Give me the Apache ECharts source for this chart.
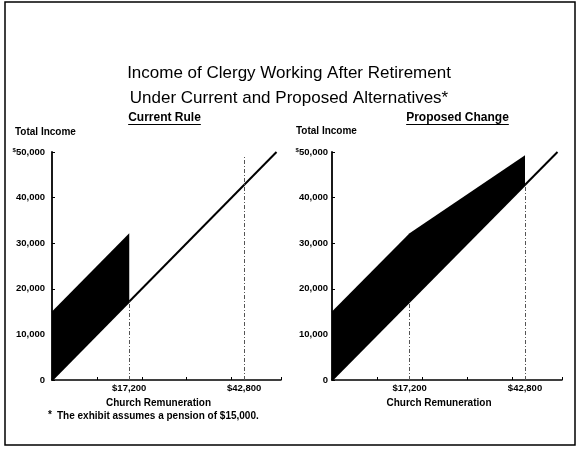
<!DOCTYPE html>
<html>
<head>
<meta charset="utf-8">
<script src="https://cdn.jsdelivr.net/npm/echarts@6/dist/echarts.min.js"></script>
<style>
  html, body { margin: 0; padding: 0; background: #fff; }
  #chart { width: 577px; height: 449px; }
</style>
</head>
<body>
<div id="chart"></div>
<script>
// ---- text ----
const titleLines = ['Income of Clergy Working After Retirement', 'Under Current and Proposed Alternatives*'];
const panelTitles = ['Current Rule', 'Proposed Change'];
const yAxisTitle = 'Total Income';
const xAxisTitle = 'Church Remuneration';
const footnote = 'The exhibit assumes a pension of $15,000.';

// ---- axes ----
const yTicks = [0, 10000, 20000, 30000, 40000, 50000];
const xLabelValues = [17200, 42800];
const xTickValues = [10000, 20000, 30000, 40000, 51000];

// ---- data ----
// remuneration alone: income equals remuneration
const diagonal = [[0, 0], [50000, 50000]];
// current rule: full $15,000 pension kept up to $17,200 of remuneration
const currentUpper = [[0, 15000], [17200, 32200]];
const currentLower = [[0, 0], [17200, 17200]];
// proposed change: pension phased down between $17,200 and $42,800
const proposedUpper = [[0, 15000], [17200, 32200], [42800, 49300]];
const proposedLower = [[0, 0], [17200, 17200], [42800, 42800]];
// dashed guides at the two thresholds: [remuneration, top of guide]
const currentGuides = [[17200, 17200], [42800, 49300]];
const proposedGuides = [[17200, 17200], [42800, 42800]];

const FONT = '"Liberation Sans", Arial, Helvetica, sans-serif';
const fmt = v => v.toLocaleString('en-US');

const measure = (text, font) => {
  const ctx = document.createElement('canvas').getContext('2d');
  ctx.font = font;
  return ctx.measureText(text).width;
};

const grids = [
  { left: 52, top: 152, width: 229, height: 228 },
  { left: 332, top: 152, width: 230, height: 228 }
];

function xAxisFor(i) {
  return {
    type: 'value', gridIndex: i, min: 0, max: 51000,
    splitLine: { show: false },
    axisLine: { show: true, lineStyle: { color: '#000', width: 1.5 } },
    axisTick: { show: true, inside: true, length: 3, customValues: xTickValues,
                lineStyle: { color: '#000', width: 1 } },
    axisLabel: { show: true, customValues: xLabelValues, margin: 3,
                 formatter: v => '$' + fmt(v),
                 fontFamily: FONT, fontSize: 9.5, fontWeight: 'bold', color: '#000' },
    name: xAxisTitle, nameLocation: 'middle', nameGap: 15,
    nameTextStyle: { fontFamily: FONT, fontSize: 10, fontWeight: 'bold', color: '#000',
                     padding: [0, 16, 0, 0] }
  };
}

function yAxisFor(i) {
  return {
    type: 'value', gridIndex: i, min: 0, max: 50000, interval: 10000,
    splitLine: { show: false },
    axisLine: { show: true, lineStyle: { color: '#000', width: 1.8 } },
    axisTick: { show: true, inside: true, length: 3, lineStyle: { color: '#000', width: 1 } },
    axisLabel: {
      margin: i === 0 ? 7 : 4,
      formatter: v => v === yTicks[yTicks.length - 1] ? '{s|$}{v|' + fmt(v) + '}' : '{v|' + fmt(v) + '}',
      rich: {
        s: { fontFamily: FONT, fontSize: 6, fontWeight: 'bold', color: '#000', verticalAlign: 'top', lineHeight: 10 },
        v: { fontFamily: FONT, fontSize: 9.5, fontWeight: 'bold', color: '#000', lineHeight: 10 }
      }
    }
  };
}

function band(i, upper, lower) {
  return {
    type: 'custom', xAxisIndex: i, yAxisIndex: i, silent: true, z: 2,
    data: [[0, 0]],
    renderItem: (params, api) => {
      const pts = upper.map(p => api.coord(p))
        .concat(lower.slice().reverse().map(p => api.coord(p)));
      return { type: 'polygon', shape: { points: pts }, style: { fill: '#000' } };
    }
  };
}

function line(i, guides) {
  return {
    type: 'line', xAxisIndex: i, yAxisIndex: i, data: diagonal, silent: true, z: 3,
    symbol: 'none', lineStyle: { color: '#000', width: 2 },
    markLine: {
      silent: true, symbol: 'none', label: { show: false },
      lineStyle: { color: '#555', width: 1, type: [4, 2, 1, 2] },
      data: guides.map(([x, top]) => [{ coord: [x, 0] }, { coord: [x, top] }])
    }
  };
}

const panelFont = 'bold 12px ' + FONT;
const panelCenters = [164.5, 457.5];
const graphics = [
  { type: 'rect', shape: { x: 5, y: 2, width: 570, height: 443 }, silent: true,
    style: { fill: 'none', stroke: '#000', lineWidth: 1.5 } },
  { type: 'text', x: 289, y: 73, silent: true,
    style: { text: titleLines[0], font: '17px ' + FONT, fill: '#000', align: 'center', verticalAlign: 'middle' } },
  { type: 'text', x: 289, y: 98, silent: true,
    style: { text: titleLines[1], font: '17px ' + FONT, fill: '#000', align: 'center', verticalAlign: 'middle' } },
  { type: 'text', x: 15, y: 132, silent: true,
    style: { text: yAxisTitle, font: 'bold 10px ' + FONT, fill: '#000', align: 'left', verticalAlign: 'middle' } },
  { type: 'text', x: 296, y: 131, silent: true,
    style: { text: yAxisTitle, font: 'bold 10px ' + FONT, fill: '#000', align: 'left', verticalAlign: 'middle' } },
  { type: 'text', x: 48, y: 415, silent: true,
    style: { text: '*', font: 'bold 10px ' + FONT, fill: '#000', align: 'left', verticalAlign: 'middle' } },
  { type: 'text', x: 57, y: 416, silent: true,
    style: { text: footnote, font: 'bold 10px ' + FONT, fill: '#000', align: 'left', verticalAlign: 'middle' } }
];
panelTitles.forEach((t, i) => {
  const w = measure(t, panelFont);
  const cx = panelCenters[i];
  graphics.push({ type: 'text', x: cx, y: 118, silent: true,
    style: { text: t, font: panelFont, fill: '#000', align: 'center', verticalAlign: 'middle' } });
  graphics.push({ type: 'line', silent: true,
    shape: { x1: cx - w / 2, y1: 124.5, x2: cx + w / 2, y2: 124.5 },
    style: { stroke: '#000', lineWidth: 1 } });
});

const chart = echarts.init(document.getElementById('chart'), null, { renderer: 'canvas' });
chart.setOption({
  animation: false,
  backgroundColor: '#fff',
  grid: grids,
  xAxis: [xAxisFor(0), xAxisFor(1)],
  yAxis: [yAxisFor(0), yAxisFor(1)],
  series: [
    band(0, currentUpper, currentLower),
    line(0, currentGuides),
    band(1, proposedUpper, proposedLower),
    line(1, proposedGuides)
  ],
  graphic: graphics
});
</script>
</body>
</html>
